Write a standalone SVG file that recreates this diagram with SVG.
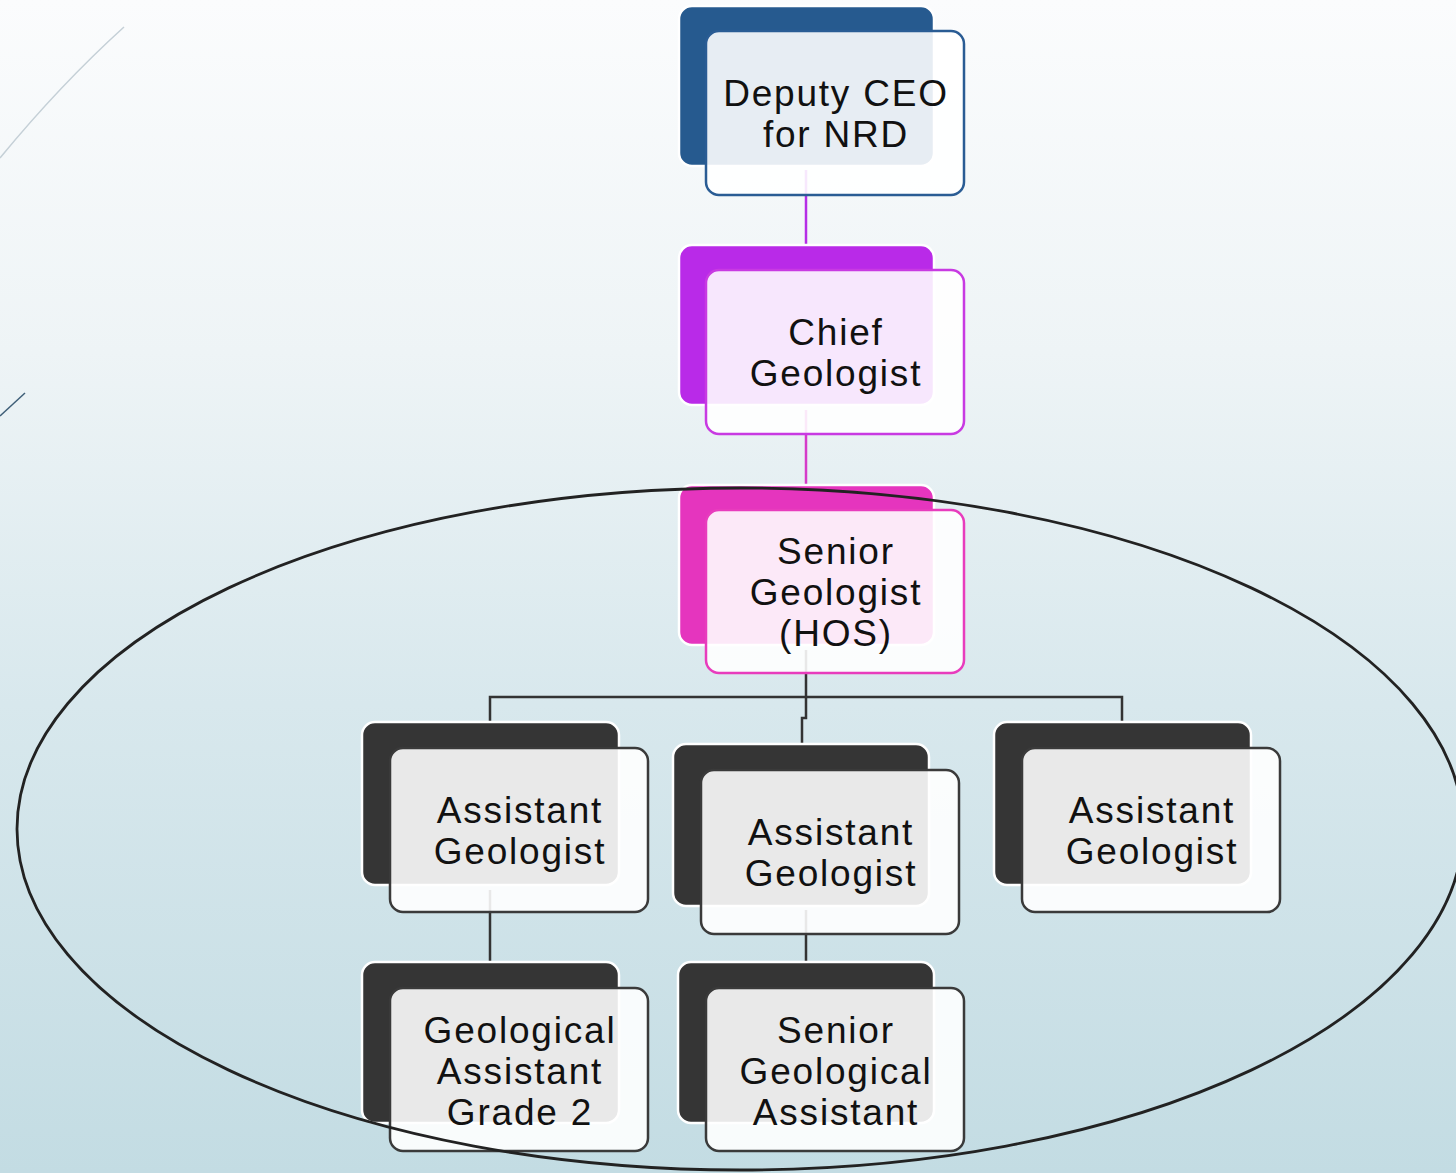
<svg xmlns="http://www.w3.org/2000/svg" width="1456" height="1173" viewBox="0 0 1456 1173">
<defs>
<linearGradient id="bg" x1="0" y1="0" x2="0" y2="1">
<stop offset="0" stop-color="#fbfcfd"/>
<stop offset="0.3" stop-color="#eef4f6"/>
<stop offset="0.6" stop-color="#d8e8ed"/>
<stop offset="1" stop-color="#c3dce3"/>
</linearGradient>
</defs>
<style>
.back{stroke:#ffffff;stroke-width:2.5}
.front{fill:#ffffff;fill-opacity:0.89;stroke-width:2.5}
.dk{fill:#353535}
.dkf{stroke:#3a3a3a}
.conn{fill:none;stroke-width:2.5}
text{font-family:"Liberation Sans",Arial,sans-serif;font-size:37px;letter-spacing:1.8px;fill:#111;text-anchor:middle}
</style>
<rect x="0" y="0" width="1456" height="1173" fill="url(#bg)"/>
<path d="M124,27 Q60,85 0,158" fill="none" stroke="#c5d0d7" stroke-width="1.5"/>
<line x1="25" y1="393" x2="0" y2="416" stroke="#3f5f78" stroke-width="1.5"/>

<g id="connectors">
<line class="conn" x1="806" y1="170" x2="806" y2="245" stroke="#b52de6"/>
<line class="conn" x1="806" y1="410" x2="806" y2="485" stroke="#d53bc9"/>
<path class="conn" d="M806,650 V718 H802 V745" stroke="#333"/>
<path class="conn" d="M490,722 V697 H1122 V722" stroke="#333"/>
<line class="conn" x1="490" y1="890" x2="490" y2="962" stroke="#333"/>
<path class="conn" d="M806,910 V962" stroke="#333"/>
</g>

<g id="node-deputy-ceo">
<rect class="back" x="679" y="6" width="255" height="160" rx="13" fill="#265a8f"/>
<rect class="front" x="706" y="31" width="258" height="164" rx="13" stroke="#2a5c94"/>
<text x="836" y="106">Deputy CEO</text>
<text x="836" y="147">for NRD</text>
</g>

<g id="node-chief-geologist">
<rect class="back" x="679" y="245" width="255" height="160" rx="13" fill="#b92ae8"/>
<rect class="front" x="706" y="270" width="258" height="164" rx="13" stroke="#c83ae2"/>
<text x="836" y="345">Chief</text>
<text x="836" y="386">Geologist</text>
</g>

<g id="node-senior-geologist">
<rect class="back" x="679" y="485" width="255" height="160" rx="13" fill="#e535be"/>
<rect class="front" x="706" y="510" width="258" height="163" rx="13" stroke="#e83cbd"/>
<text x="836" y="564">Senior</text>
<text x="836" y="605">Geologist</text>
<text x="836" y="646">(HOS)</text>
</g>

<g id="node-assistant-geologist-1">
<rect class="back dk" x="362" y="722" width="257" height="163" rx="13"/>
<rect class="front dkf" x="390" y="748" width="258" height="164" rx="13"/>
<text x="520" y="823">Assistant</text>
<text x="520" y="864">Geologist</text>
</g>

<g id="node-assistant-geologist-2">
<rect class="back dk" x="673" y="744" width="256" height="162" rx="13"/>
<rect class="front dkf" x="701" y="770" width="258" height="164" rx="13"/>
<text x="831" y="845">Assistant</text>
<text x="831" y="886">Geologist</text>
</g>

<g id="node-assistant-geologist-3">
<rect class="back dk" x="994" y="722" width="257" height="163" rx="13"/>
<rect class="front dkf" x="1022" y="748" width="258" height="164" rx="13"/>
<text x="1152" y="823">Assistant</text>
<text x="1152" y="864">Geologist</text>
</g>

<g id="node-geological-assistant-grade2">
<rect class="back dk" x="362" y="962" width="257" height="161" rx="13"/>
<rect class="front dkf" x="390" y="988" width="258" height="163" rx="13"/>
<text x="520" y="1043">Geological</text>
<text x="520" y="1084">Assistant</text>
<text x="520" y="1125">Grade 2</text>
</g>

<g id="node-senior-geological-assistant">
<rect class="back dk" x="678" y="962" width="256" height="161" rx="13"/>
<rect class="front dkf" x="706" y="988" width="258" height="163" rx="13"/>
<text x="836" y="1043">Senior</text>
<text x="836" y="1084">Geological</text>
<text x="836" y="1125">Assistant</text>
</g>

<ellipse id="group-ellipse" cx="740" cy="829" rx="723" ry="341" fill="none" stroke="#222" stroke-width="2.8"/>
</svg>
